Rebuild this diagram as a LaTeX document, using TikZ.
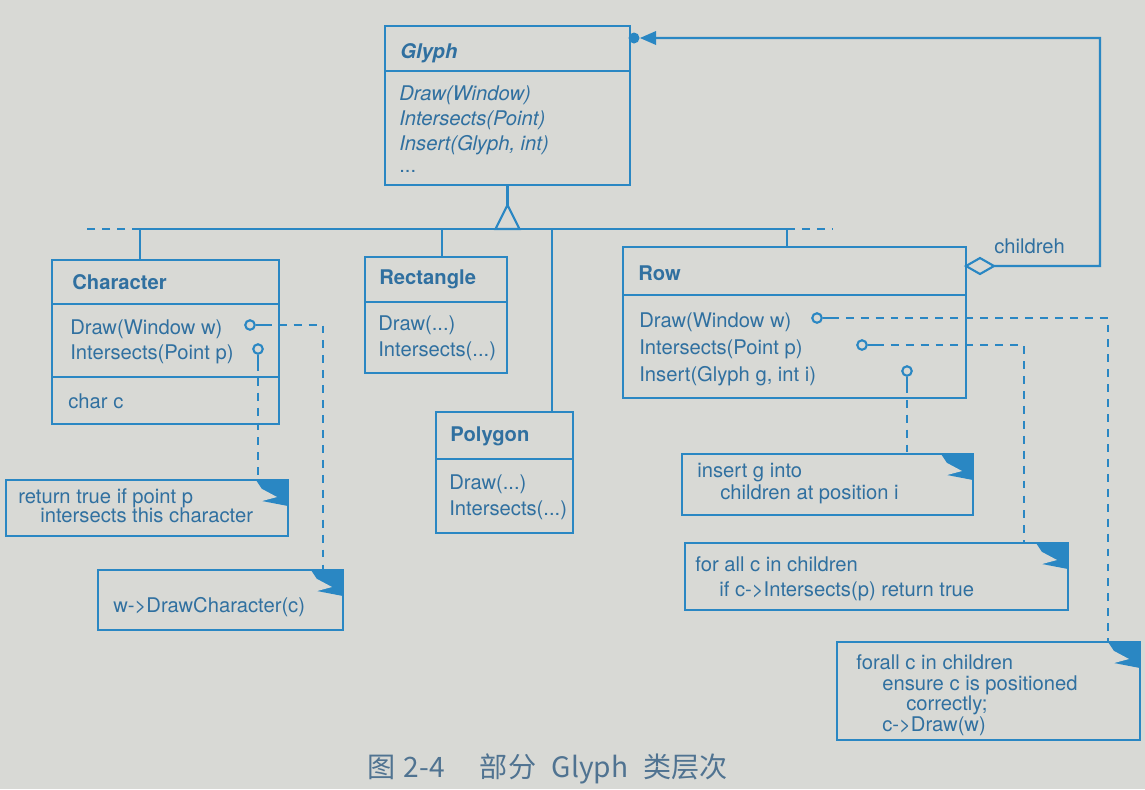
\documentclass[tikz,border=0pt]{standalone}
\usepackage{fontspec}
\setmainfont{TeX Gyre Heros}
\newfontfamily\cjk{Noto Sans CJK SC}
\usetikzlibrary{calc,fit}
\definecolor{bgc}{RGB}{216,217,213}
\definecolor{lc}{RGB}{42,135,195}
\definecolor{tc}{RGB}{48,112,160}
\definecolor{capc}{RGB}{80,115,145}
\newcommand\fs{\fontsize{11.5}{14}\selectfont}
\newcommand\dogear[1]{%
  \fill[lc] ($(#1.north east)+(-32,0)$) -- (#1.north east) -- ($(#1.north east)+(0,26)$) -- ($(#1.north east)+(-26,21)$) -- ($(#1.north east)+(-26,9)$) -- cycle;
  \fill[bgc] ($(#1.north east)+(-26,9)$) -- ($(#1.north east)+(-11,17)$) -- ($(#1.north east)+(-26,21)$) -- cycle;}
\tikzset{
  ln/.style={draw=lc, line width=1.2pt},
  box/.style={draw=lc, line width=1.2pt, inner sep=0pt, outer sep=0pt, rectangle},
  dsh/.style={draw=lc, line width=1pt, dash pattern=on 4.5pt off 4pt},
  txt/.style={anchor=base west, inner sep=0pt, text=tc, font=\fs},
  ttl/.style={anchor=base west, inner sep=0pt, text=tc, font=\fs\bfseries},
  lolli/.style={circle, draw=lc, line width=1.2pt, minimum size=0.19cm, inner sep=0pt},
}
\begin{document}
\begin{tikzpicture}[x=0.02cm, y=-0.02cm]
\fill[bgc] (0,0) rectangle (1145,789);
\useasboundingbox (0,0) rectangle (1145,789);

% ---------- Glyph
\node[box, fit={(385,26) (630,185)}] (glyph) {};
\draw[ln] (glyph.north west) ++(0,45) -- ++(245,0);
\node[ttl, font=\fs\bfseries\itshape] (gT) at (400,58) {Glyph};
\node[txt, font=\fs\itshape] (gM1) at (399,100) {Draw(Window)};
\node[txt, font=\fs\itshape] (gM2) at (399,125) {Intersects(Point)};
\node[txt, font=\fs\itshape] (gM3) at (399,150) {Insert(Glyph, int)};
\node[txt] (gM4) at (399,172) {...};

% ---------- inheritance
\coordinate (apex) at ($(glyph.south)+(0,20)$);
\draw[ln] (glyph.south) -- (apex);
\draw[ln, fill=bgc] (apex) -- ++(12,24) -- ++(-24,0) -- cycle;
\coordinate (busL) at (140,229);
\coordinate (busR) at (787,229);
\coordinate (dRect) at (442,229);
\coordinate (dPoly) at (552,229);
\draw[ln] (busL) -- (busR);
\draw[dsh] (busL) -- ++(-53,0);
\draw[dsh] (busR) -- ++(46,0);

% ---------- Character
\node[box, fit={(52,260) (279,424)}] (chr) {};
\draw[ln] (chr.north west) ++(0,44) -- ++(227,0);
\draw[ln] (chr.north west) ++(0,117) -- ++(227,0);
\node[ttl] (cT) at (72,289) {Character};
\node[txt] (cM1) at (70,334) {Draw(Window w)};
\node[txt] (cM2) at (70,359) {Intersects(Point p)};
\node[txt] (cA1) at (68,408) {char c};
\draw[ln] (busL) -- (busL |- chr.north);

% ---------- Rectangle
\node[box, fit={(365,257) (507,373)}] (rect) {};
\draw[ln] (rect.north west) ++(0,45) -- ++(142,0);
\node[ttl] (rT) at (379,284) {Rectangle};
\node[txt] (rM1) at (378,330) {Draw(...)};
\node[txt] (rM2) at (378,356) {Intersects(...)};
\draw[ln] (dRect) -- (dRect |- rect.north);

% ---------- Polygon
\node[box, fit={(436,412) (573,533)}] (poly) {};
\draw[ln] (poly.north west) ++(0,47) -- ++(137,0);
\node[ttl] (pT) at (450,441) {Polygon};
\node[txt] (pM1) at (449,489) {Draw(...)};
\node[txt] (pM2) at (449,515) {Intersects(...)};
\draw[ln] (dPoly) -- (dPoly |- poly.north);

% ---------- Row
\node[box, fit={(623,247) (966,398)}] (row) {};
\draw[ln] (row.north west) ++(0,48) -- ++(343,0);
\node[ttl] (wT) at (638,280) {Row};
\node[txt] (wM1) at (639,327) {Draw(Window w)};
\node[txt] (wM2) at (639,354) {Intersects(Point p)};
\node[txt] (wM3) at (639,381) {Insert(Glyph g, int i)};
\draw[ln] (busR) -- (busR |- row.north);

% ---------- aggregation children
\coordinate (dtip) at ($(row.north east)+(0,19)$);
\draw[ln, fill=bgc] (dtip) -- ++(14,-8) -- ++(14,8) coordinate (dend) -- ++(-14,8) -- cycle;
\coordinate (gport) at ($(glyph.north east)+(0,12)$);
\coordinate (turn) at (1100,38);
\draw[ln] (dend) -| (turn) -- ($(gport)+(26,0)$);
\fill[lc] ($(gport)+(4,0)$) circle (5.5);
\fill[lc] ($(gport)+(10,0)$) -- ($(gport)+(26,-7)$) -- ($(gport)+(26,7)$) -- cycle;
\node[txt] (chl) at (994,253) {childreh};

% ---------- notes
\node[box, fit={(6,480) (288,536)}] (n1) {};
\dogear{n1}
\node[txt] at (18,503) {return true if point p};
\node[txt] at (40,522) {intersects this character};

\node[box, fit={(98,570) (343,630)}] (n2) {};
\dogear{n2}
\node[txt] at (113,612) {w->DrawCharacter(c)};

\node[box, fit={(682,454) (973,515)}] (n3) {};
\dogear{n3}
\node[txt] at (697,477) {insert g into};
\node[txt] at (720,499) {children at position i};

\node[box, fit={(685,543) (1068,610)}] (n4) {};
\dogear{n4}
\node[txt] at (695,571) {for all c in children};
\node[txt] at (719,596) {if c->Intersects(p) return true};

\node[box, fit={(837,642) (1140,740)}] (n5) {};
\dogear{n5}
\node[txt] at (856,669) {forall c in children};
\node[txt] at (882,690) {ensure c is positioned};
\node[txt] at (906,710) {correctly;};
\node[txt] at (882,731) {c->Draw(w)};

% ---------- lollipops
\node[lolli] (cdw) at (250,325) {};
\draw[ln] (cdw.east) -- ++(8,0) coordinate (cdwS);
\coordinate (n2p) at ($(n2.north east)+(-20,0)$);
\draw[dsh] (cdwS) -| (n2p);

\node[lolli] (cis) at (258,349) {};
\draw[ln] (cis.south) -- ++(0,8) coordinate (cisS);
\draw[dsh] (cisS) -- (cisS |- n1.north);

\node[lolli] (rdw) at (817,318) {};
\draw[ln] (rdw.east) -- ++(8,0) coordinate (rdwS);
\coordinate (n5p) at ($(n5.north east)+(-32,0)$);
\draw[dsh] (rdwS) -| (n5p);

\node[lolli] (ris) at (862,345) {};
\draw[ln] (ris.east) -- ++(8,0) coordinate (risS);
\coordinate (n4p) at ($(n4.north east)+(-44,0)$);
\draw[dsh] (risS) -| (n4p);

\node[lolli] (rin) at (907,371) {};
\draw[ln] (rin.south) -- ++(0,8) coordinate (rinS);
\draw[dsh] (rinS) -- (rinS |- n3.north);

% ---------- caption
\node[anchor=base west, inner sep=0pt, text=capc, font=\cjk\fontsize{16}{18}\selectfont] (cap) at (367,777) {图\hspace{0.3em}2-4\hspace{1.25em}部分\hspace{0.55em}Glyph\hspace{0.55em}类层次};
\end{tikzpicture}
\end{document}
